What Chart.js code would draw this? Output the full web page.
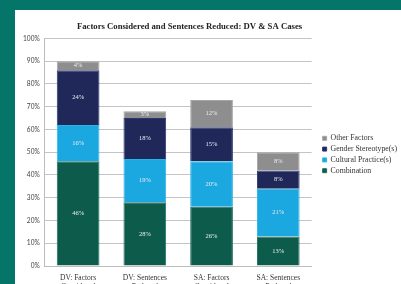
<!DOCTYPE html>
<html>
<head>
<meta charset="utf-8">
<script src="https://cdn.jsdelivr.net/npm/chart.js@4.4.0/dist/chart.umd.min.js"></script>
<style>
  html, body { margin: 0; padding: 0; width: 401px; height: 284px; overflow: hidden; background: #047568; }
  #panel { position: absolute; left: 15px; top: 10px; width: 386px; height: 290px; background: #ffffff; }
  #chart { display: block; }
</style>
</head>
<body>
<div id="panel"><canvas id="chart" width="386" height="282"></canvas></div>
<script>
const categories = [["DV: Factors", "Considered"], ["DV: Sentences", "Reduced"], ["SA: Factors", "Considered"], ["SA: Sentences", "Reduced"]];
const combination = [46, 28, 26, 13];
const culturalPractice = [16, 19, 20, 21];
const genderStereotype = [24, 18, 15, 8];
const otherFactors = [4, 3, 12, 8];
const yTicks = [0, 10, 20, 30, 40, 50, 60, 70, 80, 90, 100];

const serif = "'Liberation Serif', 'DejaVu Serif', serif";

// draw the percentage labels inside each segment
const segmentLabels = {
    id: "segmentLabels",
    afterDatasetsDraw(chart) {
        const ctx = chart.ctx;
        ctx.save();
        ctx.font = "6.5px " + serif;
        ctx.fillStyle = "#e8eef5";
        ctx.textAlign = "center";
        ctx.textBaseline = "middle";
        chart.data.datasets.forEach((ds, i) => {
            chart.getDatasetMeta(i).data.forEach((bar, j) => {
                const y = (bar.y + bar.base) / 2;
                ctx.fillText(ds.data[j] + "%", bar.x, y);
            });
        });
        ctx.restore();
    }
};

// title sits a bit left of the canvas centre, legend sits a bit away from the plot
const nudge = {
    id: "nudge",
    afterLayout(chart) {
        if (chart.titleBlock) {
            chart.titleBlock.right -= 38;
        }
        if (chart.legend) {
            chart.legend.left += 8;
            chart.legend.right += 8;
        }
    }
};

new Chart(document.getElementById("chart"), {
    type: "bar",
    data: {
        labels: categories,
        datasets: [
            { label: "Combination", data: combination, backgroundColor: "#0d5b4b", borderColor: "#1e7060", borderWidth: 1 },
            { label: "Cultural Practice(s)", data: culturalPractice, backgroundColor: "#1ba7df", borderColor: "#2ab3e8", borderWidth: 1 },
            { label: "Gender Stereotype(s)", data: genderStereotype, backgroundColor: "#1f2859", borderColor: "#2b3670", borderWidth: 1 },
            { label: "Other Factors", data: otherFactors, backgroundColor: "#8e8e8e", borderColor: "#a5a5a5", borderWidth: 1 }
        ]
    },
    options: {
        responsive: false,
        animation: false,
        devicePixelRatio: 1,
        layout: { padding: { left: 3, right: 2, top: 7, bottom: 0 } },
        datasets: { bar: { categoryPercentage: 0.8, barPercentage: 0.8 } },
        scales: {
            x: {
                stacked: true,
                grid: { display: false },
                border: { color: "#bdbdbd" },
                ticks: { color: "#333", font: { family: serif, size: 7.5 }, maxRotation: 0, padding: 0 }
            },
            y: {
                stacked: true,
                min: 0,
                max: 100,
                afterBuildTicks: axis => { axis.ticks = yTicks.map(v => ({ value: v })); },
                grid: { color: "#c4c4c4", drawTicks: false },
                border: { color: "#bdbdbd" },
                ticks: { color: "#444", font: { family: "Lato, sans-serif", size: 6.6 }, padding: 5, callback: v => v + "%" }
            }
        },
        plugins: {
            title: {
                display: true,
                text: "Factors Considered and Sentences Reduced: DV & SA Cases",
                color: "#222",
                font: { family: serif, size: 8.7, weight: "bold" },
                padding: { top: 5, bottom: 6 }
            },
            legend: {
                position: "right",
                reverse: true,
                labels: { boxWidth: 4, boxHeight: 4, padding: 3, color: "#333", font: { family: serif, size: 7.8 } }
            },
            tooltip: { enabled: false }
        }
    },
    plugins: [segmentLabels, nudge]
});
</script>
</body>
</html>
